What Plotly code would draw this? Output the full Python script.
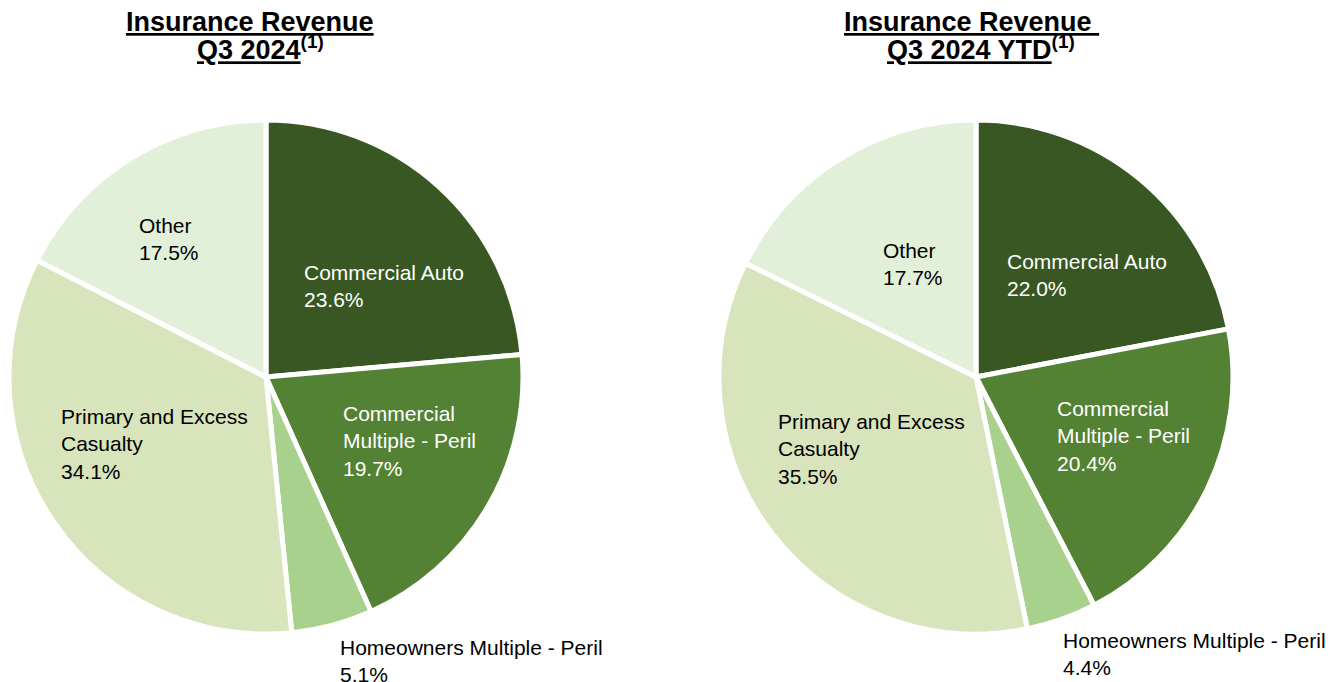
import plotly.graph_objects as go

categories = ["Commercial Auto", "Commercial Multiple - Peril", "Homeowners Multiple - Peril",
              "Primary and Excess Casualty", "Other"]
q3_values = [23.6, 19.7, 5.1, 34.1, 17.5]
ytd_values = [22.0, 20.4, 4.4, 35.5, 17.7]
colors = ["#385723", "#548235", "#A9D18E", "#D8E4BC", "#E2EFD9"]
label_lines = ["Commercial Auto", "Commercial<br>Multiple - Peril", "Homeowners Multiple - Peril",
               "Primary and Excess<br>Casualty", "Other"]
text_colors = ["white", "white", "black", "black", "black"]

W, H = 1333, 682
FONT = "Liberation Sans, Arial"
fig = go.Figure()

def dom(x0, x1, y0, y1):
    return dict(x=[x0 / W, x1 / W], y=[1 - y1 / H, 1 - y0 / H])

fig.add_trace(go.Pie(labels=categories, values=q3_values, sort=False, direction="clockwise",
                     rotation=0, textinfo="none", marker=dict(colors=colors, line=dict(color="white", width=5)),
                     domain=dom(9, 523, 120, 634), showlegend=False))
fig.add_trace(go.Pie(labels=categories, values=ytd_values, sort=False, direction="clockwise",
                     rotation=0, textinfo="none", marker=dict(colors=colors, line=dict(color="white", width=5)),
                     domain=dom(719, 1233, 120, 634), showlegend=False))

# label positions (pixel, left edge x, vertical center y)
left_pos = [(302, 286), (341, 441), (338, 661), (59, 444), (137, 239)]
right_pos = [(1005, 275), (1055, 436), (1061, 654), (776, 449), (881, 264)]

annotations = []
for vals, pos in ((q3_values, left_pos), (ytd_values, right_pos)):
    for i, (x, y) in enumerate(pos):
        annotations.append(dict(
            x=x / W, y=1 - y / H, xref="paper", yref="paper", xanchor="left", yanchor="middle",
            align="left", showarrow=False,
            text=f"{label_lines[i]}<br>{vals[i]:.1f}%",
            font=dict(family=FONT, size=21, color=text_colors[i])))

titles = [
    (250, 22, "<b><u>Insurance Revenue</u></b>"),
    (260, 48, "<b><u>Q3 2024</u><sup>(1)</sup></b>"),
    (971, 22, "<b><u>Insurance Revenue </u></b>"),
    (981, 48, "<b><u>Q3 2024 YTD</u><sup>(1)</sup></b>"),
]
for x, y, t in titles:
    annotations.append(dict(x=x / W, y=1 - y / H, xref="paper", yref="paper", xanchor="center",
                            yanchor="middle", showarrow=False, align="center", text=t,
                            font=dict(family=FONT, size=27, color="black")))

fig.update_layout(width=W, height=H, margin=dict(l=0, r=0, t=0, b=0),
                  paper_bgcolor="white", plot_bgcolor="white", annotations=annotations)
fig.write_html("out.html")
